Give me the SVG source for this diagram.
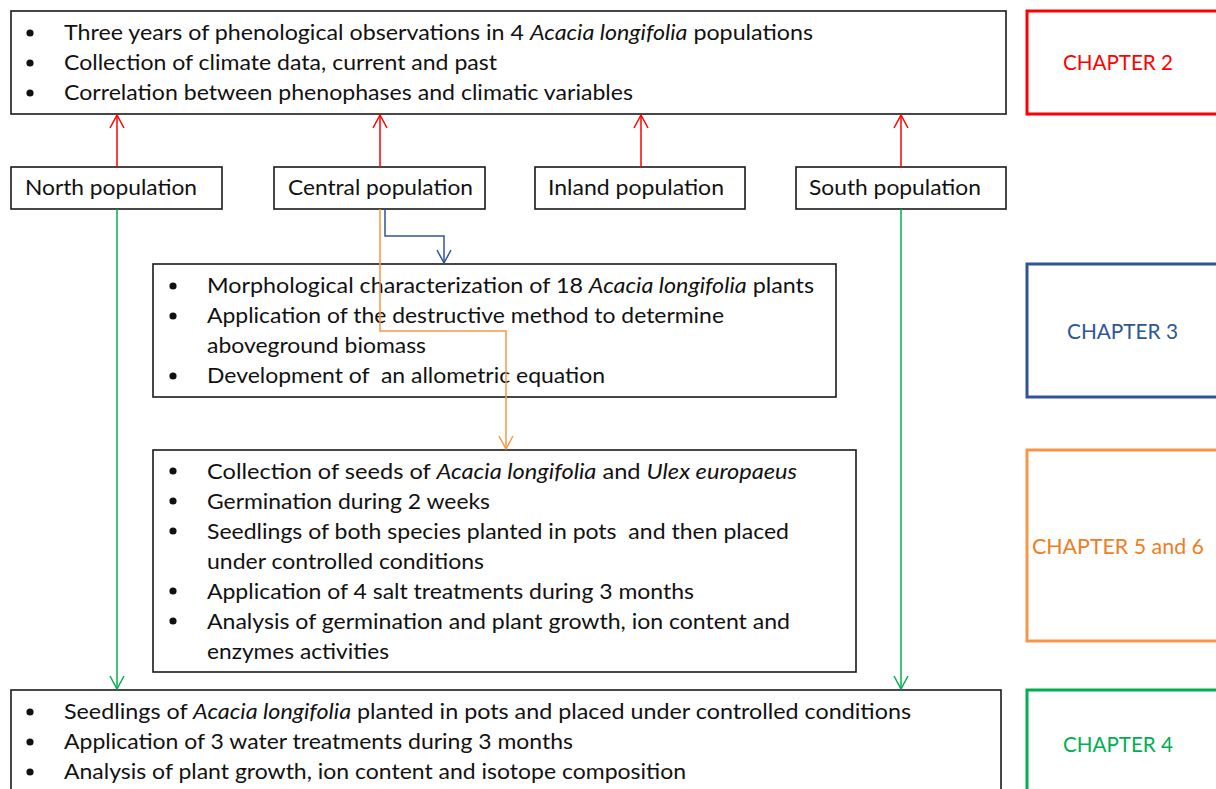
<svg xmlns="http://www.w3.org/2000/svg" width="1216" height="789" viewBox="0 0 1216 789">
<style>
.box{fill:#fff;stroke:#1a1a1a;stroke-width:1.6}
.t{font-family:Lato,"Liberation Sans",sans-serif;font-size:21px;fill:#111}
.i{font-style:italic}
.bu{fill:#111}
.ch{fill:none;stroke-width:3}
.ct{font-family:Lato,"Liberation Sans",sans-serif;font-size:21px}
.c{fill:none;stroke-width:1.5}
</style>
<defs>
<marker id="mr" markerUnits="userSpaceOnUse" markerWidth="16" markerHeight="16" viewBox="0 0 16 16" refX="14" refY="8" orient="auto"><path d="M1,1 L14,8 L1,15" fill="none" stroke="#ff0000" stroke-width="1.5"/></marker>
<marker id="mg" markerUnits="userSpaceOnUse" markerWidth="16" markerHeight="16" viewBox="0 0 16 16" refX="14" refY="8" orient="auto"><path d="M1,1 L14,8 L1,15" fill="none" stroke="#00b050" stroke-width="1.5"/></marker>
<marker id="mb" markerUnits="userSpaceOnUse" markerWidth="16" markerHeight="16" viewBox="0 0 16 16" refX="14" refY="8" orient="auto"><path d="M1,1 L14,8 L1,15" fill="none" stroke="#2f5597" stroke-width="1.5"/></marker>
<marker id="mo" markerUnits="userSpaceOnUse" markerWidth="16" markerHeight="16" viewBox="0 0 16 16" refX="14" refY="8" orient="auto"><path d="M1,1 L14,8 L1,15" fill="none" stroke="#f79646" stroke-width="1.5"/></marker>
</defs>
<rect width="1216" height="789" fill="#fff"/>

<g id="phenology">
<rect class="box" x="11" y="11" width="995" height="103"/>
<circle class="bu" cx="30" cy="33" r="3.6"/><circle class="bu" cx="30" cy="63" r="3.6"/><circle class="bu" cx="30" cy="93" r="3.6"/>
<text class="t" x="64" y="40" textLength="749" lengthAdjust="spacingAndGlyphs">Three years of phenological observations in 4 <tspan class="i">Acacia longifolia</tspan> populations</text>
<text class="t" x="64" y="70" textLength="433" lengthAdjust="spacingAndGlyphs">Collection of climate data, current and past</text>
<text class="t" x="64" y="100" textLength="569" lengthAdjust="spacingAndGlyphs">Correlation between phenophases and climatic variables</text>
</g>

<g id="chapter2">
<rect class="ch" x="1027" y="11" width="200" height="103" stroke="#ff0000"/>
<text class="ct" x="1063" y="70" fill="#ff0000" textLength="110" lengthAdjust="spacingAndGlyphs">CHAPTER 2</text>
</g>

<g id="north">
<rect class="box" x="11" y="167" width="211" height="42"/>
<text class="t" x="25" y="195" textLength="172" lengthAdjust="spacingAndGlyphs">North population</text>
</g>
<g id="central">
<rect class="box" x="274" y="167" width="211" height="42"/>
<text class="t" x="288" y="195" textLength="185" lengthAdjust="spacingAndGlyphs">Central population</text>
</g>
<g id="inland">
<rect class="box" x="535" y="167" width="210" height="42"/>
<text class="t" x="548" y="195" textLength="176" lengthAdjust="spacingAndGlyphs">Inland population</text>
</g>
<g id="south">
<rect class="box" x="796" y="167" width="210" height="42"/>
<text class="t" x="809" y="195" textLength="172" lengthAdjust="spacingAndGlyphs">South population</text>
</g>

<g id="biomass">
<rect class="box" x="153" y="264" width="683" height="133"/>
<circle class="bu" cx="173" cy="286" r="3.6"/><circle class="bu" cx="173" cy="316" r="3.6"/><circle class="bu" cx="173" cy="376" r="3.6"/>
<text class="t" x="207" y="293" textLength="607" lengthAdjust="spacingAndGlyphs">Morphological characterization of 18 <tspan class="i">Acacia longifolia</tspan> plants</text>
<text class="t" x="207" y="323" textLength="517" lengthAdjust="spacingAndGlyphs">Application of the destructive method to determine</text>
<text class="t" x="207" y="353" textLength="219" lengthAdjust="spacingAndGlyphs">aboveground biomass</text>
<text class="t" x="207" y="383" textLength="398" lengthAdjust="spacingAndGlyphs" xml:space="preserve">Development of  an allometric equation</text>
</g>

<g id="chapter3">
<rect class="ch" x="1027" y="264" width="200" height="133" stroke="#2f5597"/>
<text class="ct" x="1067" y="339" fill="#2f5597" textLength="111" lengthAdjust="spacingAndGlyphs">CHAPTER 3</text>
</g>

<g id="salt">
<rect class="box" x="153" y="450" width="703" height="222"/>
<circle class="bu" cx="173" cy="471" r="3.6"/><circle class="bu" cx="173" cy="501" r="3.6"/><circle class="bu" cx="173" cy="531" r="3.6"/><circle class="bu" cx="173" cy="591" r="3.6"/><circle class="bu" cx="173" cy="621" r="3.6"/>
<text class="t" x="207" y="479" textLength="590" lengthAdjust="spacingAndGlyphs">Collection of seeds of <tspan class="i">Acacia longifolia</tspan> and <tspan class="i">Ulex europaeus</tspan></text>
<text class="t" x="207" y="509" textLength="283" lengthAdjust="spacingAndGlyphs">Germination during 2 weeks</text>
<text class="t" x="207" y="539" textLength="582" lengthAdjust="spacingAndGlyphs" xml:space="preserve">Seedlings of both species planted in pots  and then placed</text>
<text class="t" x="207" y="569" textLength="277" lengthAdjust="spacingAndGlyphs">under controlled conditions</text>
<text class="t" x="207" y="599" textLength="487" lengthAdjust="spacingAndGlyphs">Application of 4 salt treatments during 3 months</text>
<text class="t" x="207" y="629" textLength="583" lengthAdjust="spacingAndGlyphs">Analysis of germination and plant growth, ion content and</text>
<text class="t" x="207" y="659" textLength="182" lengthAdjust="spacingAndGlyphs">enzymes activities</text>
</g>

<g id="chapter56">
<rect class="ch" x="1027" y="450" width="200" height="191" stroke="#f79646"/>
<text class="ct" x="1032" y="554" fill="#ef7d22" textLength="172" lengthAdjust="spacingAndGlyphs">CHAPTER 5 and 6</text>
</g>

<g id="water">
<rect class="box" x="11" y="690" width="990" height="120"/>
<circle class="bu" cx="30" cy="712" r="3.6"/><circle class="bu" cx="30" cy="742" r="3.6"/><circle class="bu" cx="30" cy="772" r="3.6"/>
<text class="t" x="64" y="719" textLength="847" lengthAdjust="spacingAndGlyphs">Seedlings of <tspan class="i">Acacia longifolia</tspan> planted in pots and placed under controlled conditions</text>
<text class="t" x="64" y="749" textLength="509" lengthAdjust="spacingAndGlyphs">Application of 3 water treatments during 3 months</text>
<text class="t" x="64" y="779" textLength="622" lengthAdjust="spacingAndGlyphs">Analysis of plant growth, ion content and isotope composition</text>
</g>

<g id="chapter4">
<rect class="ch" x="1027" y="690" width="200" height="120" stroke="#00b050"/>
<text class="ct" x="1063" y="752" fill="#00b050" textLength="110" lengthAdjust="spacingAndGlyphs">CHAPTER 4</text>
</g>

<g id="connectors">
<line class="c" x1="117" y1="167" x2="117" y2="115" stroke="#ff0000" marker-end="url(#mr)"/>
<line class="c" x1="380" y1="167" x2="380" y2="115" stroke="#ff0000" marker-end="url(#mr)"/>
<line class="c" x1="641" y1="167" x2="641" y2="115" stroke="#ff0000" marker-end="url(#mr)"/>
<line class="c" x1="901" y1="167" x2="901" y2="115" stroke="#ff0000" marker-end="url(#mr)"/>
<line class="c" x1="117" y1="209" x2="117" y2="689" stroke="#00b050" marker-end="url(#mg)"/>
<line class="c" x1="901" y1="209" x2="901" y2="689" stroke="#00b050" marker-end="url(#mg)"/>
<polyline class="c" points="385,209 385,236 444,236 444,263" stroke="#2f5597" marker-end="url(#mb)"/>
<polyline class="c" points="380,209 380,331 506,331 506,449" stroke="#f79646" marker-end="url(#mo)"/>
</g>
</svg>
